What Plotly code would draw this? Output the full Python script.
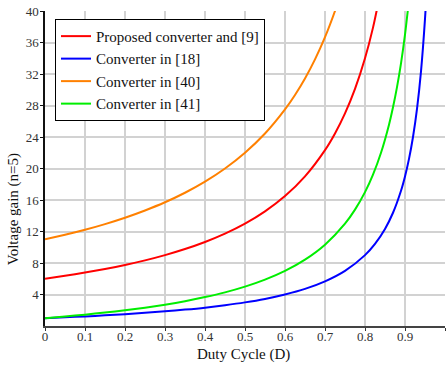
import plotly.graph_objects as go

# Duty cycle samples and voltage gains (n=5)
d_prop = [0, 0.05, 0.1, 0.15, 0.2, 0.25, 0.3, 0.35, 0.4, 0.45, 0.5, 0.55, 0.6, 0.65, 0.7, 0.725, 0.75, 0.775, 0.8, 0.82, 0.84]
g_prop = [6.0, 6.37, 6.78, 7.24, 7.75, 8.33, 9.0, 9.77, 10.67, 11.73, 13.0, 14.56, 16.5, 19.0, 22.33, 24.45, 27.0, 30.11, 34.0, 37.89, 42.75]

d_18 = [0, 0.05, 0.1, 0.15, 0.2, 0.25, 0.3, 0.35, 0.4, 0.45, 0.5, 0.55, 0.6, 0.65, 0.7, 0.75, 0.8, 0.825, 0.85, 0.87, 0.89, 0.9, 0.91, 0.92, 0.93, 0.94, 0.95, 0.955]
g_18 = [1.0, 1.11, 1.22, 1.35, 1.5, 1.67, 1.86, 2.08, 2.33, 2.64, 3.0, 3.44, 4.0, 4.71, 5.67, 7.0, 9.0, 10.43, 12.33, 14.38, 17.18, 19.0, 21.22, 24.0, 27.57, 32.33, 39.0, 43.44]

d_40 = [0, 0.05, 0.1, 0.15, 0.2, 0.25, 0.3, 0.35, 0.4, 0.45, 0.5, 0.55, 0.6, 0.625, 0.65, 0.675, 0.7, 0.725, 0.74]
g_40 = [11.0, 11.58, 12.22, 12.94, 13.75, 14.67, 15.71, 16.92, 18.33, 20.0, 22.0, 24.44, 27.5, 29.33, 31.43, 33.85, 36.67, 40.0, 42.31]

d_41 = [0, 0.05, 0.1, 0.15, 0.2, 0.25, 0.3, 0.35, 0.4, 0.45, 0.5, 0.55, 0.6, 0.65, 0.7, 0.75, 0.775, 0.8, 0.82, 0.84, 0.86, 0.87, 0.88, 0.89, 0.9, 0.91]
g_41 = [1.0, 1.21, 1.44, 1.71, 2.0, 2.33, 2.71, 3.15, 3.67, 4.27, 5.0, 5.89, 7.0, 8.43, 10.33, 13.0, 14.78, 17.0, 19.22, 22.0, 25.57, 27.77, 30.33, 33.36, 37.0, 41.44]

x_tickvals = [0, 0.1, 0.2, 0.3, 0.4, 0.5, 0.6, 0.7, 0.8, 0.9, 1.0]
x_ticktext = ["0", "0.1", "0.2", "0.3", "0.4", "0.5", "0.6", "0.7", "0.8", "0.9",
              "<span style='color:#e08a2c'>1</span>"]
y_tickvals = [4, 8, 12, 16, 20, 24, 28, 32, 36, 40]

series = [
    ("Proposed converter and [9]", d_prop, g_prop, "#ff0000"),
    ("Converter in [18]", d_18, g_18, "#0000ff"),
    ("Converter in [40]", d_40, g_40, "#ff8000"),
    ("Converter in [41]", d_41, g_41, "#00ee00"),
]

font_family = "Times New Roman, Liberation Serif, DejaVu Serif, serif"

fig = go.Figure()
for name, xs, ys, col in series:
    fig.add_trace(go.Scatter(x=xs, y=ys, mode="lines", name=name,
                             line=dict(color=col, width=2, shape="spline", smoothing=0.8)))

fig.update_layout(
    width=447, height=365,
    margin=dict(l=45, r=2, t=11, b=39),
    paper_bgcolor="white", plot_bgcolor="white",
    font=dict(family=font_family, size=13, color="#222"),
    showlegend=True,
    legend=dict(x=0.025, y=0.975, xanchor="left", yanchor="top",
                bgcolor="white", bordercolor="black", borderwidth=1,
                font=dict(family=font_family, size=15, color="#111"),
                tracegroupgap=0, itemwidth=30),
    xaxis=dict(range=[0, 1], tickvals=x_tickvals, ticktext=x_ticktext,
               showgrid=True, gridcolor="#d2d2d2", gridwidth=2,
               zeroline=False, showline=True, linecolor="#444", linewidth=1.5,
               ticks="outside", ticklen=3, tickcolor="#333",
               ticklabelstandoff=-5,
               tickfont=dict(family=font_family, size=13, color="#333")),
    yaxis=dict(range=[0, 40], tickvals=y_tickvals,
               showgrid=True, gridcolor="#d2d2d2", gridwidth=2,
               zeroline=False, showline=True, linecolor="#111", linewidth=1.5,
               ticks="outside", ticklen=3, tickcolor="#111",
               ticklabelstandoff=-1,
               tickfont=dict(family=font_family, size=13, color="#333")),
    annotations=[
        dict(text="Voltage gain (n=5)", xref="paper", yref="paper",
             x=-0.078, y=0.37, textangle=-90, showarrow=False,
             xanchor="center", yanchor="middle",
             font=dict(family=font_family, size=15, color="#111")),
        dict(text="Duty Cycle (D)", xref="paper", yref="paper",
             x=0.495, y=-0.09, showarrow=False,
             xanchor="center", yanchor="middle",
             font=dict(family=font_family, size=15, color="#111")),
    ],
)

fig.write_html("out.html", config={"displayModeBar": False},
               post_script="document.body.style.margin='0';document.body.style.overflow='hidden';")
